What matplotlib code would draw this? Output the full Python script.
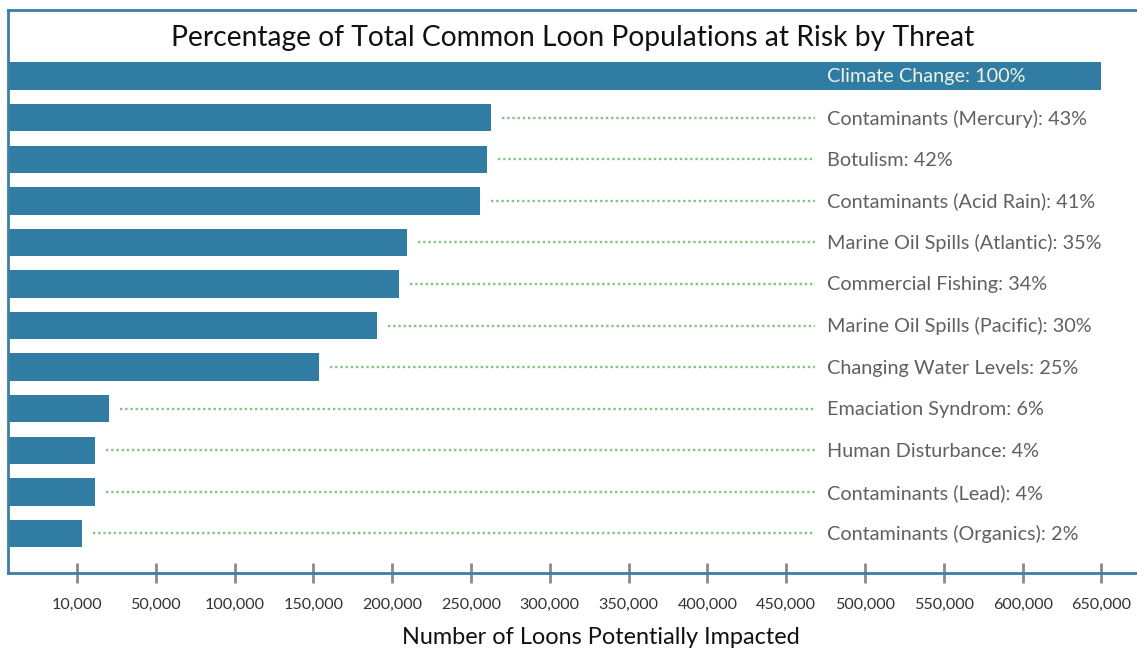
import matplotlib
matplotlib.use("Agg")
import matplotlib.pyplot as plt

threats = ["Climate Change", "Contaminants (Mercury)", "Botulism", "Contaminants (Acid Rain)",
           "Marine Oil Spills (Atlantic)", "Commercial Fishing", "Marine Oil Spills (Pacific)",
           "Changing Water Levels", "Emaciation Syndrom", "Human Disturbance",
           "Contaminants (Lead)", "Contaminants (Organics)"]
percents = [100, 43, 42, 41, 35, 34, 30, 25, 6, 4, 4, 2]
# bar end positions read on the chart's x scale
loons = [650000, 262700, 260100, 255700, 209400, 204300, 190400, 153500, 20300, 11400, 11400, 3200]
tick_pos = [0, 50000, 100000, 150000, 200000, 250000, 300000, 350000, 400000,
            450000, 500000, 550000, 600000, 650000]
tick_labels = ["10,000", "50,000", "100,000", "150,000", "200,000", "250,000", "300,000",
               "350,000", "400,000", "450,000", "500,000", "550,000", "600,000", "650,000"]

BAR = "#317ca3"
GREEN = "#86c383"
FONT = "Lato"

fig = plt.figure(figsize=(11.37, 6.49), dpi=100)
ax = fig.add_axes([8/1137, 1 - 573/649, 1 - 8/1137, (573 - 10)/649])
xmin, xmax = -43780, 672560
ax.set_xlim(xmin, xmax)
ax.set_ylim(11.95, -1.59)

label_x = 475600
line_end = 468300
for i, (name, p, v) in enumerate(zip(threats, percents, loons)):
    ax.barh(i, v - xmin, left=xmin, height=0.66, color=BAR, zorder=2)
    if i == 0:
        ax.text(label_x, i + 0.02, f"{name}: {p}%", va="center", ha="left", fontsize=14.3,
                color="#eef3e6", family=FONT, zorder=3)
    else:
        ax.plot([v + 7000, line_end], [i, i], linestyle=(0, (1.0, 1.2)), color=GREEN,
                linewidth=1.7, dash_capstyle="butt", zorder=1)
        ax.text(label_x, i + 0.02, f"{name}: {p}%", va="center", ha="left", fontsize=14.3,
                color="#606060", family=FONT, zorder=3)

ax.text(0.5, 1 - 28/563, "Percentage of Total Common Loon Populations at Risk by Threat",
        transform=ax.transAxes, ha="center", va="center", fontsize=20.3, color="#111111",
        family=FONT)

for s in ["top", "left", "bottom"]:
    ax.spines[s].set_color("#3a7fa6")
    ax.spines[s].set_linewidth(2)
ax.spines["right"].set_visible(False)

ax.set_yticks([])
ax.set_xticks(tick_pos)
ax.set_xticklabels(tick_labels, family=FONT, fontsize=11.6, color="#333333")
ax.tick_params(axis="x", direction="inout", length=14, width=2, color="#8a8a8a", pad=11)
ax.set_xlabel("Number of Loons Potentially Impacted", family=FONT, fontsize=16.9,
              color="#111111", labelpad=12)
ax.xaxis.set_label_coords((601 - 8) / 1129, -(637 - 573) / 563, transform=ax.transAxes)
ax.xaxis.label.set_va("center")

fig.savefig("out.png", dpi=100)
